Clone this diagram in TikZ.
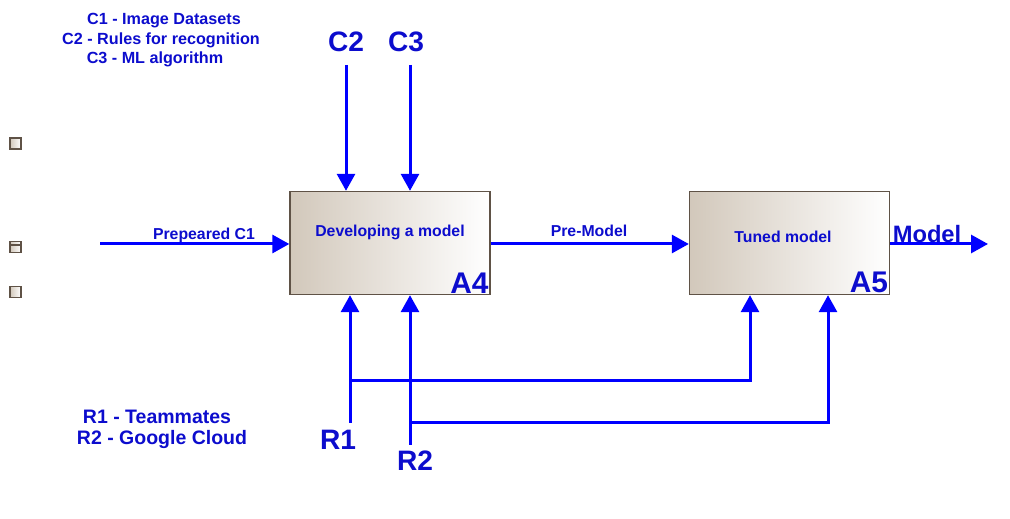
\documentclass[tikz,border=0pt]{standalone}
\usepackage{fontspec}
\setmainfont{Liberation Sans}
\usetikzlibrary{arrows.meta}
\definecolor{boxtan}{RGB}{210,200,187}
\definecolor{boxedge}{RGB}{95,82,70}
\definecolor{inkblue}{RGB}{12,12,205}
\tikzset{
  activity/.style={draw=boxedge, thick, left color=boxtan, right color=white, minimum width=4cm, minimum height=2.06cm, inner sep=0pt},
  title/.style={text=inkblue, font=\fontsize{9}{11}\selectfont\bfseries, inner sep=0pt},
  number/.style={text=inkblue, font=\fontsize{17}{20}\selectfont\bfseries, inner sep=1pt},
  tag/.style={text=inkblue, font=\fontsize{16}{19}\selectfont\bfseries, inner sep=0pt},
  note/.style={text=inkblue, font=\fontsize{9.2}{11}\selectfont\bfseries, inner sep=0pt},
  bignote/.style={text=inkblue, font=\fontsize{11.1}{13}\selectfont\bfseries, inner sep=0pt},
  flow/.style={blue, line width=0.06cm, -{Triangle[width=0.36cm, length=0.34cm]}},
  icon/.style={draw=boxedge, thick, left color=boxtan, right color=white, minimum size=0.22cm, inner sep=0pt}
}

\begin{document}
\begin{tikzpicture}[x=0.02cm, y=-0.02cm]
  \useasboundingbox (0,0) rectangle (1010,519);

  % legend
  \node[note] (n1) at (164,21) {C1 - Image Datasets};
  \node[note] (n2) at (161,40) {C2 - Rules for recognition};
  \node[note] (n3) at (155,59) {C3 - ML algorithm};
  \node[bignote] (n4) at (157,417) {R1 - Teammates};
  \node[bignote] (n5) at (162,440) {R2 - Google Cloud};

  % side icons
  \node[icon] (i1) at (15.5,143.5) {};
  \node[icon] (i2) at (15.5,247) {};
  \draw[boxedge, thick] (i2.west) ++(0,-2) -- ++(11,0);
  \node[icon] (i3) at (15.5,292) {};

  % boxes
  \node[activity] (A4) at (390,243) {};
  \node[activity] (A5) at (789.5,243) {};
  \node[title] (t4) at (390,232) {Developing a model};
  \node[title] (t5) at (783,237) {Tuned model};
  \node[number, anchor=south east] (a4) at (A4.south east) {A4};
  \node[number, anchor=south east] (a5) at (A5.south east) {A5};

  % controls
  \node[tag] (C2) at (346,42) {C2};
  \node[tag] (C3) at (406,42) {C3};
  \coordinate (c2) at (346,65);
  \coordinate (c3) at (410,65);
  \draw[flow] (c2) -- (c2 |- A4.north);
  \draw[flow] (c3) -- (c3 |- A4.north);

  % input and outputs
  \coordinate (in) at (100,244);
  \coordinate (out) at (988,244);
  \node[title] (l1) at (204,235) {Prepeared C1};
  \node[title] (l2) at (589,231) {Pre-Model};
  \node[text=inkblue, font=\fontsize{13.5}{16}\selectfont\bfseries, inner sep=0pt] (l3) at (927,234) {Model};
  \draw[flow] (in) -- (in -| A4.west);
  \draw[flow] (A4.east |- in) -- (in -| A5.west);
  \draw[flow] (A5.east |- in) -- (out);

  % mechanisms
  \node[tag] (R1) at (338,440) {R1};
  \node[tag] (R2) at (415,461) {R2};
  \coordinate (r1) at (350,423);
  \coordinate (r2) at (410,445);
  \coordinate (r1a) at (350,381);
  \coordinate (r2a) at (410,423);
  \coordinate (m1) at (750,0);
  \coordinate (m2) at (828,0);
  \draw[flow] (r1) -- (r1 |- A4.south);
  \draw[flow] (r2) -- (r2 |- A4.south);
  \draw[flow] (r1a) -| (m1 |- A5.south);
  \draw[flow] (r2a) -| (m2 |- A5.south);
\end{tikzpicture}
\end{document}
